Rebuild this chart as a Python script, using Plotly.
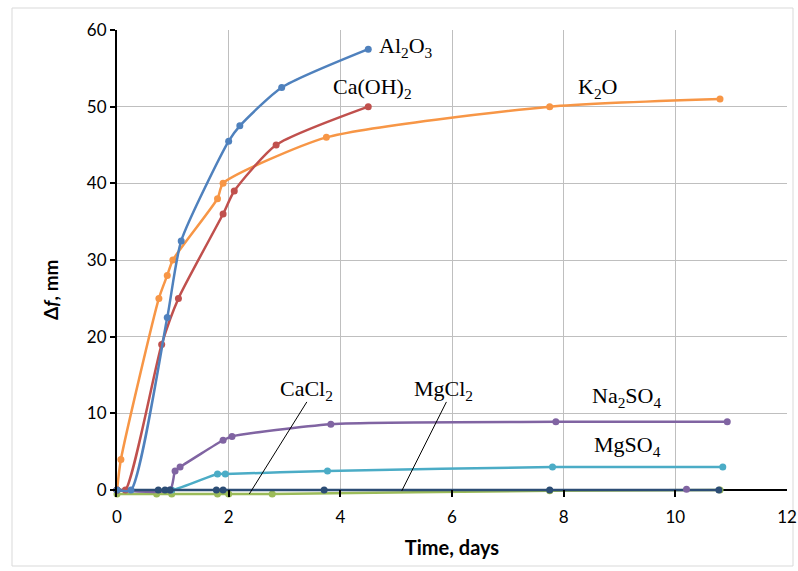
import plotly.graph_objects as go

# ---- data ----
al2o3_x = [0, 0.25, 0.9, 1.15, 2.0, 2.2, 2.95, 4.5]
al2o3_y = [0, 0, 22.5, 32.5, 45.5, 47.5, 52.5, 57.5]

caoh2_x = [0, 0.15, 0.8, 1.1, 1.9, 2.1, 2.85, 4.5]
caoh2_y = [0, 0, 19, 25, 36, 39, 45, 50]

k2o_x = [0, 0.07, 0.75, 0.9, 1.0, 1.8, 1.9, 3.75, 7.75, 10.8]
k2o_y = [0, 4, 25, 28, 30, 38, 40, 46, 50, 51]

na2so4_x = [0, 0.95, 1.04, 1.13, 1.9, 2.06, 3.83, 7.86, 10.93]
na2so4_y = [0, 0, 2.5, 3, 6.5, 7, 8.6, 8.9, 8.9]

mgso4_x = [0, 0.98, 1.8, 1.94, 3.77, 7.8, 10.85]
mgso4_y = [0, 0, 2.1, 2.1, 2.5, 3.0, 3.0]

cacl2_x = [0, 0.71, 0.98, 1.8, 2.0, 2.78, 7.75, 10.8]
cacl2_y = [-0.5, -0.5, -0.5, -0.5, -0.5, -0.5, -0.1, 0]

mgcl2_x = [0, 0.74, 0.86, 0.95, 1.78, 1.9, 3.71, 7.75, 10.78]
mgcl2_y = [0, 0, 0, 0, 0, 0, 0, 0, 0]

extra_x = [10.2]
extra_y = [0.1]

x_ticks = [0, 2, 4, 6, 8, 10, 12]
y_ticks = [0, 10, 20, 30, 40, 50, 60]

C_BLUE = "#4F81BD"
C_RED = "#C0504D"
C_ORANGE = "#F79646"
C_PURPLE = "#8064A2"
C_TEAL = "#4BACC6"
C_GREEN = "#9BBB59"
C_NAVY = "#2C4D75"

fig = go.Figure()

def add(x, y, color, name):
    fig.add_trace(go.Scatter(
        x=x, y=y, mode="lines+markers", name=name,
        line=dict(color=color, width=2.5, shape="spline", smoothing=0.6),
        marker=dict(color=color, size=7),
        showlegend=False, cliponaxis=False))

add(cacl2_x, cacl2_y, C_GREEN, "CaCl2")
add(mgso4_x, mgso4_y, C_TEAL, "MgSO4")
add(na2so4_x, na2so4_y, C_PURPLE, "Na2SO4")
add(mgcl2_x, mgcl2_y, C_NAVY, "MgCl2")
add(extra_x, extra_y, C_PURPLE, "extra")
add(k2o_x, k2o_y, C_ORANGE, "K2O")
add(caoh2_x, caoh2_y, C_RED, "Ca(OH)2")
add(al2o3_x, al2o3_y, C_BLUE, "Al2O3")

serif = dict(family="Liberation Serif, Times New Roman, serif", size=22, color="#000000")
labels = [
    ("Al<sub>2</sub>O<sub>3</sub>", 5.18, 57.8),
    ("Ca(OH)<sub>2</sub>", 4.57, 52.5),
    ("K<sub>2</sub>O", 8.6, 52.5),
    ("CaCl<sub>2</sub>", 3.4, 13.0),
    ("MgCl<sub>2</sub>", 5.84, 13.0),
    ("Na<sub>2</sub>SO<sub>4</sub>", 9.12, 12.1),
    ("MgSO<sub>4</sub>", 9.14, 5.7),
]
for txt, ax, ay in labels:
    fig.add_annotation(x=ax, y=ay, text=txt, showarrow=False, font=serif,
                       xanchor="center", yanchor="middle")

# leader lines
fig.add_shape(type="line", x0=3.40, y0=11.5, x1=2.37, y1=-0.5,
              line=dict(color="black", width=1))
fig.add_shape(type="line", x0=5.9, y0=11.5, x1=5.1, y1=-0.1,
              line=dict(color="black", width=1))

# outer border
fig.add_shape(type="rect", xref="paper", yref="paper",
              x0=-105/670, x1=(793-117)/670, y0=-(566-497)/467, y1=(497-8)/467,
              line=dict(color="#D9D9D9", width=1), layer="below")

title_font = dict(family="Lato, Open Sans, sans-serif", size=20, color="black")
# y-axis title
fig.add_annotation(xref="paper", yref="paper", x=(50-117)/670, y=(497-290)/467,
                   text="<b>Δ<i>f</i>, mm</b>", textangle=-90, showarrow=False,
                   font=dict(family="Lato, Open Sans, sans-serif", size=19, color="black"),
                   xanchor="center", yanchor="middle")

tick_font = dict(family="Lato, Open Sans, sans-serif", size=17, color="#000000")
fig.update_layout(
    width=798, height=571,
    margin=dict(l=117, r=11, t=30, b=74),
    paper_bgcolor="white", plot_bgcolor="white",
    xaxis=dict(range=[0, 12], tickvals=x_ticks, ticktext=[str(v) for v in x_ticks],
               automargin=False,
               showgrid=True, gridcolor="#BFBFBF", gridwidth=1,
               showline=False, zeroline=False,
               ticks="inside", ticklen=7, tickcolor="black", tickwidth=1.5,
               ticklabelstandoff=8, tickfont=tick_font,
               title=dict(text="<b>Time, days</b>", font=title_font, standoff=14)),
    yaxis=dict(range=[-0.9, 60], tickvals=y_ticks, ticktext=[str(v) for v in y_ticks],
               automargin=False,
               showgrid=True, gridcolor="#BFBFBF", gridwidth=1,
               showline=True, linecolor="black", linewidth=2,
               zeroline=True, zerolinecolor="black", zerolinewidth=2,
               ticks="outside", ticklen=5, tickcolor="black", tickwidth=1.5,
               tickfont=tick_font),
)

fig.write_html("out.html", config={"displayModeBar": False},
               post_script="document.body.style.margin='0';document.body.style.overflow='hidden';")
